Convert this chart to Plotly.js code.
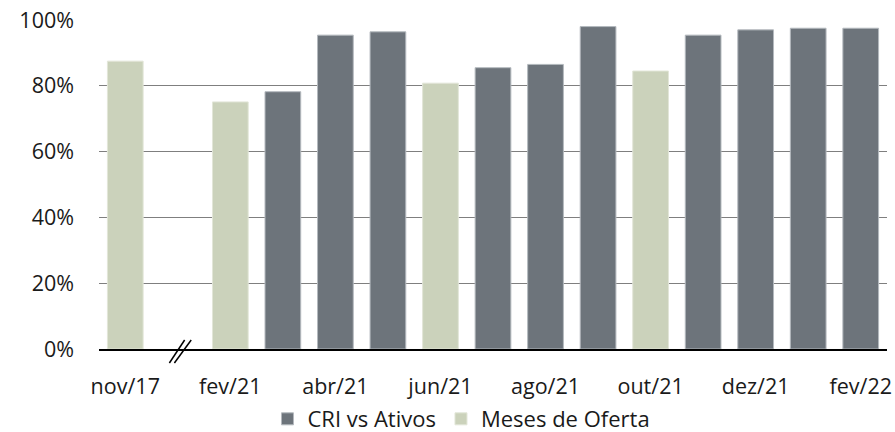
<!DOCTYPE html>
<html>
<head>
<meta charset="utf-8">
<script src="https://cdn.plot.ly/plotly-3.0.1.min.js"></script>
<style>html,body{margin:0;padding:0;background:#fff;}#chart{width:895px;height:432px;}</style>
</head>
<body>
<div id="chart"></div>
<script>
var categories = ['nov/17', ' ', 'fev/21', 'mar/21', 'abr/21', 'mai/21', 'jun/21', 'jul/21', 'ago/21', 'set/21', 'out/21', 'nov/21', 'dez/21', 'jan/22', 'fev/22'];
var criAtivos = [null, null, null, 78.2, 95.4, 96.4, null, 85.5, 86.5, 98.0, null, 95.4, 97.0, 97.5, 97.5];
var mesesOferta = [87.5, null, 75.1, null, null, null, 80.8, null, null, null, 84.5, null, null, null, null];
var tickLabels = ['nov/17', 'fev/21', 'abr/21', 'jun/21', 'ago/21', 'out/21', 'dez/21', 'fev/22'];
var yTicks = [0, 20, 40, 60, 80, 100];
var yTickLabels = ['0%', '20%', '40%', '60%', '80%', '100%'];

var font = {family: 'Open Sans, sans-serif', size: 21.5, color: '#1a1a1a'};
var legendFont = {family: 'Open Sans, sans-serif', size: 22, color: '#1a1a1a'};

var traces = [
  {type: 'bar', name: 'CRI vs Ativos', x: categories, y: criAtivos,
   marker: {color: '#6d747b', line: {color: '#b4b9be', width: 1}}, hoverinfo: 'x+y'},
  {type: 'bar', name: 'Meses de Oferta', x: categories, y: mesesOferta,
   marker: {color: '#cbd2bb', line: {color: '#e2e6d8', width: 1}}, hoverinfo: 'x+y'}
];

var layout = {
  width: 895, height: 432,
  margin: {l: 99, r: 8, t: 20, b: 83},
  paper_bgcolor: '#fff', plot_bgcolor: '#fff',
  font: font,
  barmode: 'relative',
  bargap: 0.32,
  showlegend: true,
  legend: {orientation: 'h', x: 0.46, xanchor: 'center', yref: 'container', y: 0.03, yanchor: 'middle',
           font: legendFont, itemwidth: 30, traceorder: 'normal', bgcolor: 'rgba(0,0,0,0)'},
  xaxis: {type: 'category', categoryorder: 'array', categoryarray: categories,
          tickvals: tickLabels, ticktext: tickLabels, automargin: false,
          showgrid: false, showline: true, linecolor: '#000', linewidth: 2,
          ticks: 'outside', ticklen: 17, tickcolor: 'rgba(0,0,0,0)', tickfont: font,
          fixedrange: true},
  yaxis: {range: [0, 100], tickvals: yTicks, ticktext: yTickLabels, automargin: false,
          showgrid: true, gridcolor: '#7f7f7f', gridwidth: 1,
          zeroline: false, showline: false, ticks: '', ticklabelstandoff: 24,
          tickfont: font, fixedrange: true},
  shapes: [
    {type: 'line', xref: 'x', yref: 'paper', ysizemode: 'pixel', yanchor: 0,
     x0: 0.84, y0: -14, x1: 1.13, y1: 9, line: {color: '#000', width: 1.5}},
    {type: 'line', xref: 'x', yref: 'paper', ysizemode: 'pixel', yanchor: 0,
     x0: 0.935, y0: -14, x1: 1.255, y1: 9, line: {color: '#000', width: 1.5}}
  ]
};

Plotly.newPlot('chart', traces, layout, {displayModeBar: false, staticPlot: true});
</script>
</body>
</html>
